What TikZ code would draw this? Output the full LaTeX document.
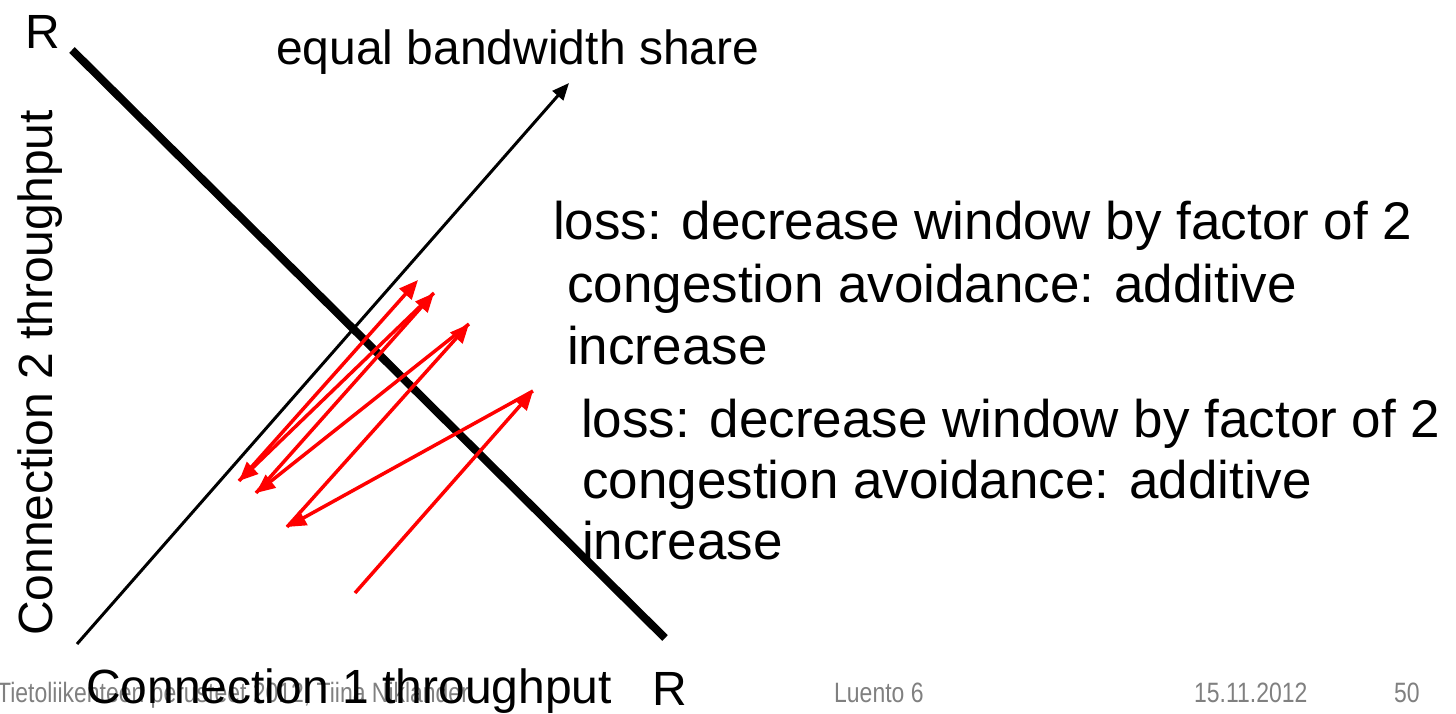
\documentclass[tikz,border=0pt]{standalone}
\usepackage{fontspec}
\setmainfont{Liberation Sans}
\newfontfamily\narrowfont[FakeStretch=0.82]{Liberation Sans}
\usetikzlibrary{arrows.meta}

\begin{document}
\begin{tikzpicture}[x=1pt,y=-1pt]
  \tikzstyle{big}=[inner sep=0pt,font=\fontsize{48}{48}\selectfont]
  \tikzstyle{txt}=[inner sep=0pt,anchor=base west,font=\fontsize{53}{62}\selectfont]
  \tikzstyle{foot}=[inner sep=0pt,anchor=base west,text=black!50,font=\narrowfont\fontsize{28}{28}\selectfont]
  \tikzstyle{lim}=[line width=8pt]
  \tikzstyle{fair}=[-{Triangle[length=17pt,width=14pt]},line width=3pt]
  \tikzstyle{f}=[-{Triangle[length=19pt,width=16pt]},red,line width=3.5pt]

  \useasboundingbox (0,0) rectangle (1456,714);

  % footer
  \node[foot] (src) at (-3,702) {Tietoliikenteen perusteet 2012, Tiina Niklander};
  \node[foot] (lec) at (834,702) {Luento 6};
  \node[foot] (date) at (1194,702) {15.11.2012};
  \node[foot] (page) at (1394,702) {50};

  % axes labels
  \node[big,anchor=base] (ylab) at (52,373) [rotate=90] {Connection 2 throughput};
  \node[big,anchor=base west] (xlab) at (86,703) {Connection 1 throughput};
  \node[big,anchor=base west] (rtop) at (25,49) {R};
  \node[big,anchor=base west] (rbot) at (652,705) {R};

  % full utilization and fair share lines
  \coordinate (rr1) at (72,50);
  \coordinate (rr2) at (665,638);
  \draw[lim] (rr1) -- (rr2);
  \coordinate (o) at (77,644);
  \coordinate (eq) at (569,83);
  \draw[fair] (o) -- (eq);
  \node[inner sep=0pt,anchor=base west,font=\fontsize{48}{48}\selectfont] (eqlab) at (276,65) {equal bandwidth share};

  % AIMD trajectory
  \coordinate (s0) at (355,593);
  \coordinate (p1) at (533,391);
  \coordinate (p2) at (287,527);
  \coordinate (p3) at (469,324);
  \coordinate (p4) at (256,493);
  \coordinate (p5) at (434,293);
  \coordinate (p6) at (239,481);
  \coordinate (p7) at (418,280);
  \foreach \a/\b in {s0/p1,p1/p2,p2/p3,p3/p4,p4/p5,p5/p6,p6/p7}
    \draw[f] (\a) -- (\b);

  % annotations
  \node[txt] (loss1) at (553,240) {loss: decrease window by factor of 2};
  \node[txt] (ca1) at (567,302) {congestion avoidance: additive};
  \node[txt] (inc1) at (567,364) {increase};
  \node[txt] (loss2) at (581,437) {loss: decrease window by factor of 2};
  \node[txt] (ca2) at (582,498) {congestion avoidance: additive};
  \node[txt] (inc2) at (582,559) {increase};
\end{tikzpicture}
\end{document}
